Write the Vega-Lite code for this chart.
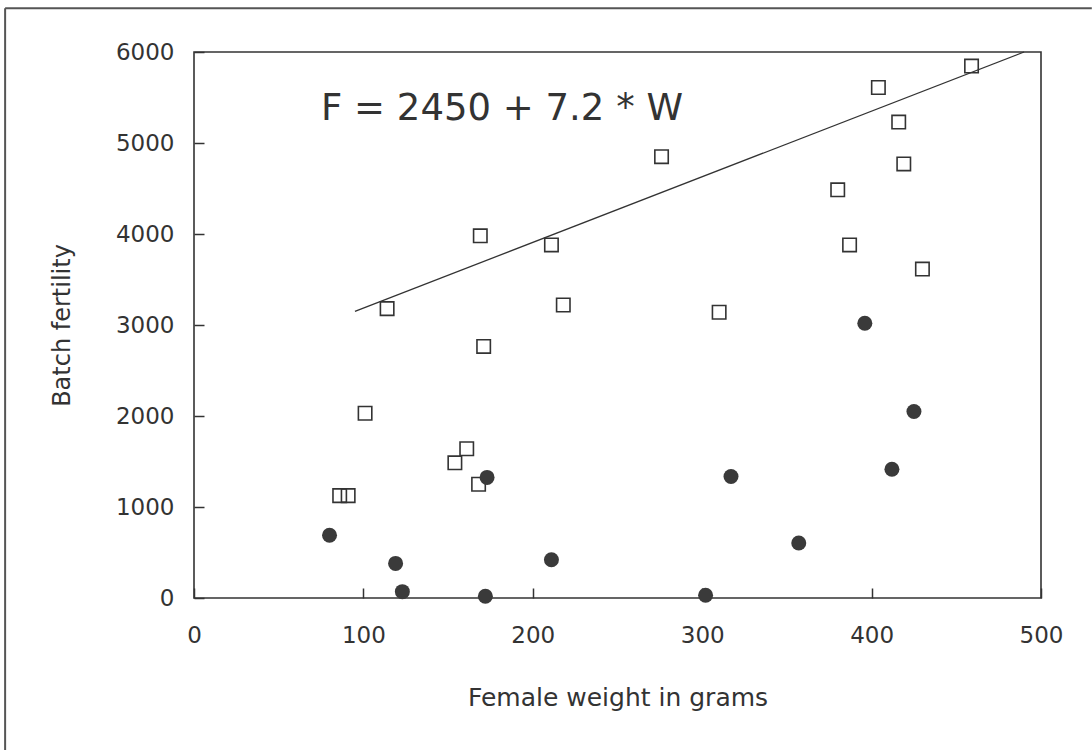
{
  "$schema": "https://vega.github.io/schema/vega-lite/v6.json",
  "width": 847,
  "height": 546,
  "autosize": {"type": "none"},
  "padding": {"left": 194, "top": 52, "right": 51, "bottom": 152},
  "background": "white",
  "config": {
    "view": {"stroke": "#333333", "strokeWidth": 1.6},
    "font": "DejaVu Sans"
  },
  "datasets": {
    "open": [
      {"W": 114, "F": 3180}, {"W": 101, "F": 2030}, {"W": 86, "F": 1125}, {"W": 91, "F": 1125},
      {"W": 161, "F": 1640}, {"W": 154, "F": 1485}, {"W": 169, "F": 3980}, {"W": 211, "F": 3880},
      {"W": 276, "F": 4850}, {"W": 218, "F": 3220}, {"W": 310, "F": 3140}, {"W": 171, "F": 2765},
      {"W": 168, "F": 1250}, {"W": 459, "F": 5845}, {"W": 404, "F": 5610}, {"W": 416, "F": 5230},
      {"W": 419, "F": 4770}, {"W": 380, "F": 4485}, {"W": 387, "F": 3880}, {"W": 430, "F": 3615}
    ],
    "filled": [
      {"W": 80, "F": 690}, {"W": 119, "F": 380}, {"W": 123, "F": 70}, {"W": 173, "F": 1325},
      {"W": 317, "F": 1335}, {"W": 211, "F": 420}, {"W": 172, "F": 20}, {"W": 302, "F": 30},
      {"W": 396, "F": 3020}, {"W": 425, "F": 2050}, {"W": 412, "F": 1415}, {"W": 357, "F": 605}
    ],
    "fit": [{"W": 95, "F": 3150}, {"W": 490, "F": 6000}],
    "label": [{"W": 75, "F": 5250, "text": "F = 2450 + 7.2 * W"}],
    "frame": [
      {"x1": -111.5, "y1": 6480, "x2": 530, "y2": 6480},
      {"x1": -111.5, "y1": 6480, "x2": -111.5, "y2": -1700}
    ]
  },
  "layer": [
    {
      "data": {"name": "frame"},
      "mark": {"type": "rule", "clip": false, "stroke": "#555555", "strokeWidth": 2},
      "encoding": {
        "x": {
          "field": "x1", "type": "quantitative",
          "scale": {"domain": [0, 500], "nice": false, "zero": false},
          "axis": {
            "values": [0, 100, 200, 300, 400, 500], "format": "d",
            "domain": false, "grid": false,
            "tickSize": -10, "tickColor": "#333333", "tickWidth": 1.5,
            "labelFont": "DejaVu Sans", "labelFontSize": 23, "labelColor": "#333333",
            "labelPadding": 36, "labelFlush": false, "labelOverlap": false,
            "title": "Female weight in grams",
            "titleFont": "DejaVu Sans", "titleFontSize": 25, "titleFontWeight": "normal", "titleColor": "#333333",
            "titleY": 99, "titleBaseline": "middle"
          }
        },
        "x2": {"field": "x2"},
        "y": {
          "field": "y1", "type": "quantitative",
          "scale": {"domain": [0, 6000], "nice": false, "zero": false},
          "axis": {
            "values": [0, 1000, 2000, 3000, 4000, 5000, 6000], "format": "d",
            "domain": false, "grid": false,
            "tickSize": -10, "tickColor": "#333333", "tickWidth": 1.5,
            "labelFont": "DejaVu Sans", "labelFontSize": 23, "labelColor": "#333333",
            "labelPadding": 30, "labelFlush": false, "labelOverlap": false,
            "title": "Batch fertility",
            "titleFont": "DejaVu Sans", "titleFontSize": 24, "titleFontWeight": "normal", "titleColor": "#333333",
            "titleX": -132, "titleY": 273, "titleAngle": -90, "titleAlign": "center", "titleBaseline": "middle"
          }
        },
        "y2": {"field": "y2"}
      }
    },
    {
      "data": {"name": "fit"},
      "mark": {"type": "line", "stroke": "#333333", "strokeWidth": 1.3},
      "encoding": {
        "x": {"field": "W", "type": "quantitative", "scale": {"domain": [0, 500], "nice": false, "zero": false}},
        "y": {"field": "F", "type": "quantitative", "scale": {"domain": [0, 6000], "nice": false, "zero": false}}
      }
    },
    {
      "data": {"name": "open"},
      "mark": {"type": "point", "shape": "square", "filled": false, "size": 180, "stroke": "#333333", "strokeWidth": 1.6, "opacity": 1},
      "encoding": {
        "x": {"field": "W", "type": "quantitative", "scale": {"domain": [0, 500], "nice": false, "zero": false}},
        "y": {"field": "F", "type": "quantitative", "scale": {"domain": [0, 6000], "nice": false, "zero": false}}
      }
    },
    {
      "data": {"name": "filled"},
      "mark": {"type": "point", "shape": "circle", "filled": true, "size": 225, "fill": "#3a3a3a", "opacity": 1},
      "encoding": {
        "x": {"field": "W", "type": "quantitative", "scale": {"domain": [0, 500], "nice": false, "zero": false}},
        "y": {"field": "F", "type": "quantitative", "scale": {"domain": [0, 6000], "nice": false, "zero": false}}
      }
    },
    {
      "data": {"name": "label"},
      "mark": {"type": "text", "align": "left", "baseline": "alphabetic", "font": "DejaVu Sans", "fontSize": 37, "fill": "#333333"},
      "encoding": {
        "x": {"field": "W", "type": "quantitative", "scale": {"domain": [0, 500], "nice": false, "zero": false}},
        "y": {"field": "F", "type": "quantitative", "scale": {"domain": [0, 6000], "nice": false, "zero": false}},
        "text": {"field": "text"}
      }
    }
  ]
}
